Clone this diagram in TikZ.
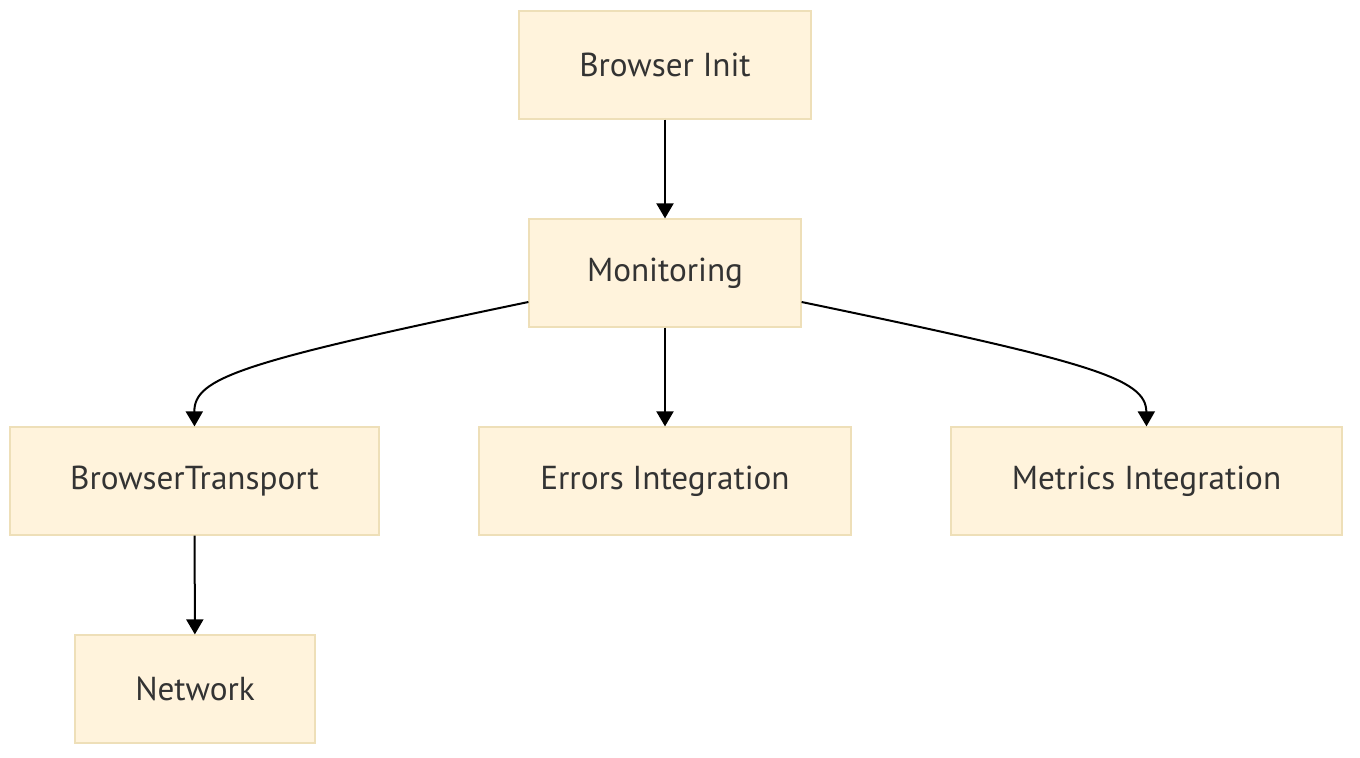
\documentclass[tikz,border=0pt]{standalone}
\usepackage{fontspec}
\setmainfont{PT Sans}
\usetikzlibrary{
  arrows.meta,
  positioning
}
\definecolor{boxfill}{HTML}{FFF3DC}
\definecolor{boxline}{HTML}{EEDFB8}
\definecolor{boxtext}{HTML}{333333}

\begin{document}
\begin{tikzpicture}[
    x=0.5pt,
    y=-0.5pt,
    box/.style={
      draw=boxline,
      fill=boxfill,
      line width=0.6pt,
      text=boxtext,
      font=\fontsize{16.6}{20}\selectfont,
      minimum height=54pt,
      inner sep=0pt
    },
    edge/.style={
      line width=1pt,
      black,
      -{Triangle[length=7.5pt,width=8.5pt]}
    }
  ]
  \useasboundingbox (0,0) rectangle (1360,758);
  \node[box, minimum width=146pt] (init) at (665,65) {Browser Init};
  \node[box, minimum width=136pt] (mon) at (665,273) {Monitoring};
  \node[box, minimum width=184.5pt] (bt) at (194.5,481) {BrowserTransport};
  \node[box, minimum width=186pt] (err) at (665,481) {Errors Integration};
  \node[box, minimum width=195.5pt] (met) at (1146.5,481) {Metrics Integration};
  \node[box, minimum width=120pt] (net) at (195,689) {Network};

  \draw[edge] (init) -- (mon);
  \draw[edge] (mon) -- (err);
  \draw[edge] ([yshift=-14.5pt]mon.west) .. controls (240,362) and (194,378) .. (bt.north);
  \draw[edge] ([yshift=-14.5pt]mon.east) .. controls (1090,362) and (1146,378) .. (met.north);
  \draw[edge] (bt) -- (net);
\end{tikzpicture}
\end{document}
